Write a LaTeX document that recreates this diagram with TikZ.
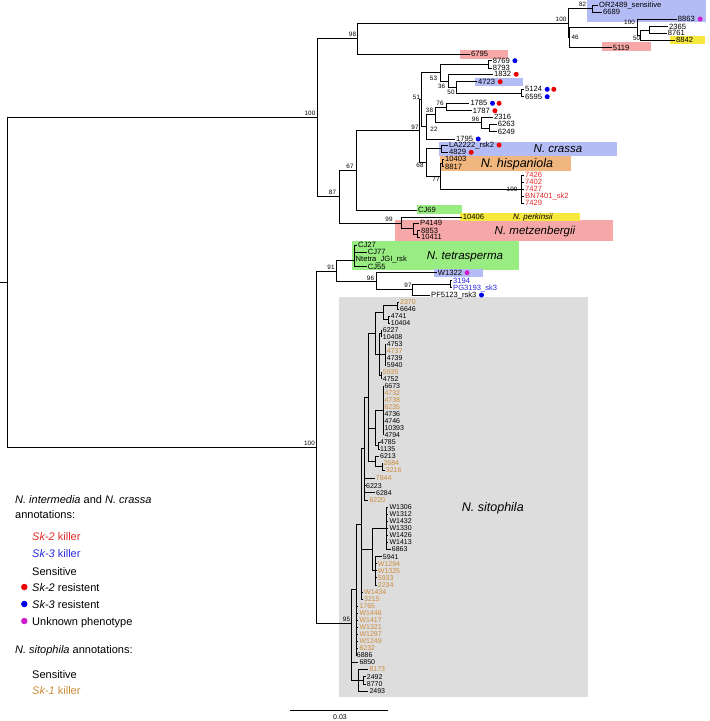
\documentclass[tikz,border=0pt]{standalone}
\usepackage{fontspec}
\setmainfont{Liberation Sans}
\usetikzlibrary{positioning}
\definecolor{killr}{RGB}{230,40,40}
\definecolor{killb}{RGB}{40,40,225}
\definecolor{skone}{RGB}{205,140,60}
\definecolor{dotr}{RGB}{235,0,0}
\definecolor{dotb}{RGB}{0,0,235}
\definecolor{dotm}{RGB}{205,30,205}
\definecolor{boxblue}{RGB}{180,188,245}
\definecolor{boxpink}{RGB}{246,168,168}
\definecolor{boxyellow}{RGB}{246,232,60}
\definecolor{boxorange}{RGB}{240,182,125}
\definecolor{boxgreen}{RGB}{152,236,130}
\definecolor{boxgray}{RGB}{221,221,221}

\begin{document}
\begin{tikzpicture}[x=1pt,y=-1pt,
    br/.style={line width=0.95pt},
    tip/.style={anchor=west,inner xsep=1pt,inner ysep=0pt,text height=5.3pt,text depth=0pt,font=\fontsize{7.6}{7.6}\selectfont},
    stip/.style={tip,text height=5pt,font=\fontsize{7}{7}\selectfont},
    bs/.style={inner sep=0pt,font=\fontsize{6.3}{6.3}\selectfont},
    spec/.style={inner sep=0pt,font=\fontsize{11.5}{12}\selectfont\itshape},
    dot/.style={circle,inner sep=0pt,minimum size=5pt},
    leg/.style={anchor=west,inner sep=0pt,font=\fontsize{11}{12}\selectfont}]
\useasboundingbox (0,0) rectangle (710,721);

% coloured boxes
\fill[boxblue] (587,0) rectangle (706,22);
\fill[boxyellow] (670,36) rectangle (705,44);
\fill[boxpink] (602,42) rectangle (651,51);
\fill[boxpink] (460,49.5) rectangle (508,58.5);
\fill[boxblue] (475,77.7) rectangle (523,86);
\fill[boxblue] (439.3,141.7) rectangle (617,156);
\fill[boxorange] (440,156) rectangle (571,171);
\fill[boxgreen] (417,205) rectangle (462,214);
\fill[boxpink] (395,220) rectangle (613,240.7);
\fill[boxyellow] (460,213) rectangle (580,220.7);
\fill[boxgreen] (351.7,240.7) rectangle (519.3,270);
\fill[boxblue] (434,268.5) rectangle (483,277);
\fill[boxgray] (339.3,296.7) rectangle (588.3,697.3);

\node[spec] (crassa) at (558,149) {N. crassa};
\node[spec,font=\fontsize{12.5}{13}\selectfont\itshape] (hisp) at (517,164) {N. hispaniola};
\node[spec,font=\fontsize{8}{8}\selectfont\itshape] (perk) at (533,217) {N. perkinsii};
\node[spec] (metz) at (535,231.5) {N. metzenbergii};
\node[spec] (tetra) at (465,256.5) {N. tetrasperma};
\node[spec,font=\fontsize{12.5}{13}\selectfont\itshape,anchor=west] (sito) at (461.7,508) {N. sitophila};

% backbone
\coordinate (rootin) at (0,282.7);
\coordinate (root) at (7,282.7);
\coordinate (nA) at (317,117.7);
\coordinate (nL) at (316.7,447.3);
\draw[br] (rootin) -- (root);
\draw[br] (root) |- (nA);
\draw[br] (root) |- (nL);

% top clade
\coordinate (n98) at (357,38.3);
\coordinate (n87) at (339,196.7);
\coordinate (nT) at (568,23);
\coordinate (n82) at (592,8.5);
\coordinate (n46) at (569.5,37.3);
\coordinate (nC) at (637,27);
\coordinate (n50b) at (640,35);
\coordinate (p2365) at (649,30);
\node[tip] (tOR) at (598,5) {OR2489\_sensitive};
\node[tip] (t6689) at (602,12) {6689};
\node[tip] (t8863) at (676.7,19) {8863};
\node[tip] (t2365) at (668,26.7) {2365};
\node[tip] (t8761) at (666.7,33.3) {8761};
\node[tip] (t8842) at (675,40) {8842};
\node[tip] (t5119) at (611.7,47.7) {5119};
\node[tip] (t6795) at (470,54) {6795};
\node[dot,fill=dotm,right=1.5pt of t8863] (d8863) {};
\draw[br] (nA) |- (n98);
\draw[br] (nA) |- (n87);
\draw[br] (n98) |- (nT);
\draw[br] (n98) |- (t6795);
\draw[br] (nT) |- (n82);
\draw[br] (nT) |- (n46);
\draw[br] (n82) |- (tOR);
\draw[br] (n82) |- (t6689);
\draw[br] (n46) |- (nC);
\draw[br] (n46) |- (t5119);
\draw[br] (nC) |- (t8863);
\draw[br] (nC) |- (n50b);
\draw[br] (n50b) |- (p2365);
\draw[br] (n50b) |- (t8842);
\draw[br] (p2365) |- (t2365);
\draw[br] (p2365) |- (t8761);

% intermedia / crassa clade
\coordinate (n67) at (356,170.5);
\coordinate (n99) at (401.7,223.2);
\coordinate (n97) at (419.5,130.7);
\coordinate (n51) at (421.5,99.5);
\coordinate (n68) at (426,162.4);
\coordinate (n53) at (440,72.8);
\coordinate (p8769) at (488,64.5);
\coordinate (n36) at (448.3,81.1);
\coordinate (n50) at (456.7,87.3);
\coordinate (p5124) at (521.7,93);
\coordinate (n22) at (426.7,126.9);
\coordinate (n38) at (435,114.8);
\coordinate (n76) at (446,107);
\coordinate (n96) at (481.7,122.7);
\coordinate (p6263) at (489,128);
\coordinate (pCr) at (441.7,148.7);
\coordinate (n77) at (440,176);
\coordinate (pHis) at (442.5,163);
\coordinate (n100d) at (521,189.2);
\node[tip] (tCJ69) at (417,210) {CJ69};
\node[tip] (t8769) at (491.7,60.7) {8769};
\node[tip] (t8793) at (491.7,68.3) {8793};
\node[tip] (t1832) at (493,74.3) {1832};
\node[tip] (t4723) at (477,81.7) {4723};
\node[tip] (t5124) at (524,89.3) {5124};
\node[tip] (t6595) at (524,96.7) {6595};
\node[tip] (t1785) at (469.3,103.3) {1785};
\node[tip] (t1787) at (471.7,110.7) {1787};
\node[tip] (t2316) at (493,117.3) {2316};
\node[tip] (t6263) at (496.7,124.3) {6263};
\node[tip] (t6249) at (496.7,131.7) {6249};
\node[tip] (t1795) at (455,139) {1795};
\node[tip] (tLA) at (448,145) {LA2222\_rsk2};
\node[tip] (t4829) at (448,152.3) {4829};
\node[tip] (t10403) at (444,159.3) {10403};
\node[tip] (t8817) at (444,166.7) {8817};
\foreach \lab/\yy/\nm in {7426/175/a,7402/182.3/b,7427/189.3/c,BN7401\_sk2/196.3/d,7429/203.3/e}
  {\node[tip,text=killr] (k\nm) at (524,\yy) {\lab};
   \draw[br] (n100d) |- (k\nm);}
\node[dot,fill=dotb,right=1.2pt of t8769] (d8769) {};
\node[dot,fill=dotr,right=1.2pt of t1832] (d1832) {};
\node[dot,fill=dotr,right=1.2pt of t4723] (d4723) {};
\node[dot,fill=dotb,right=1.2pt of t5124] (d5124a) {};
\node[dot,fill=dotr,right=1.2pt of d5124a] (d5124b) {};
\node[dot,fill=dotb,right=1.2pt of t6595] (d6595) {};
\node[dot,fill=dotb,right=1.2pt of t1785] (d1785a) {};
\node[dot,fill=dotr,right=1.2pt of d1785a] (d1785b) {};
\node[dot,fill=dotr,right=1.2pt of t1787] (d1787) {};
\node[dot,fill=dotb,right=1.2pt of t1795] (d1795) {};
\node[dot,fill=dotr,right=1.2pt of tLA] (dLA) {};
\node[dot,fill=dotr,right=1.2pt of t4829] (d4829) {};
\draw[br] (n87) |- (n67);
\draw[br] (n87) |- (n99);
\draw[br] (n67) |- (n97);
\draw[br] (n67) |- (tCJ69);
\draw[br] (n97) |- (n51);
\draw[br] (n97) |- (n68);
\draw[br] (n51) |- (n53);
\draw[br] (n51) |- (n22);
\draw[br] (n53) |- (p8769);
\draw[br] (n53) |- (n36);
\draw[br] (p8769) |- (t8769);
\draw[br] (p8769) |- (t8793);
\draw[br] (n36) |- (t1832);
\draw[br] (n36) |- (n50);
\draw[br] (n50) |- (t4723);
\draw[br] (n50) |- (p5124);
\draw[br] (p5124) |- (t5124);
\draw[br] (p5124) |- (t6595);
\draw[br] (n22) |- (n38);
\draw[br] (n22) |- (t1795);
\draw[br] (n38) |- (n76);
\draw[br] (n38) |- (n96);
\draw[br] (n76) |- (t1785);
\draw[br] (n76) |- (t1787);
\draw[br] (n96) |- (t2316);
\draw[br] (n96) |- (p6263);
\draw[br] (p6263) |- (t6263);
\draw[br] (p6263) |- (t6249);
\draw[br] (n68) |- (pCr);
\draw[br] (n68) |- (n77);
\draw[br] (pCr) |- (tLA);
\draw[br] (pCr) |- (t4829);
\draw[br] (n77) |- (pHis);
\draw[br] (n77) |- (n100d);
\draw[br] (pHis) |- (t10403);
\draw[br] (pHis) |- (t8817);

% perkinsii / metzenbergii
\coordinate (pMz) at (413.3,228.7);
\coordinate (pMz2) at (417.3,234);
\node[tip] (t10406) at (461.7,217.3) {10406};
\node[tip] (tP4149) at (419,223.3) {P4149};
\node[tip] (t8853) at (420,230.7) {8853};
\node[tip] (t10411) at (420,237.3) {10411};
\draw[br] (n99) |- (t10406);
\draw[br] (n99) |- (pMz);
\draw[br] (pMz) |- (tP4149);
\draw[br] (pMz) |- (pMz2);
\draw[br] (pMz2) |- (t8853);
\draw[br] (pMz2) |- (t10411);

% tetrasperma and sk-3 clade
\coordinate (n91) at (336,271.3);
\coordinate (S95) at (351.7,623.3);
\coordinate (pT) at (354,260);
\coordinate (n96b) at (376.7,281);
\coordinate (n97c) at (412.7,289.6);
\coordinate (p3194) at (450.7,284.2);
\node[tip] (tCJ27) at (357,245) {CJ27};
\node[tip] (tCJ77) at (366.7,252) {CJ77};
\node[tip] (tNt) at (354.5,259.3) {Ntetra\_JGI\_rsk};
\node[tip] (tCJ55) at (366.7,266.7) {CJ55};
\node[tip] (tW1322) at (436.7,272.7) {W1322};
\node[tip,text=killb] (t3194) at (452,280.7) {3194};
\node[tip,text=killb] (tPG) at (452,287.7) {PG3193\_sk3};
\node[tip] (tPF) at (430,295) {PF5123\_rsk3};
\node[dot,fill=dotm,right=1.2pt of tW1322] (dW1322) {};
\node[dot,fill=dotb,right=1.2pt of tPF] (dPF) {};
\draw[br] (nL) |- (n91);
\draw[br] (nL) |- (S95);
\draw[br] (n91) |- (pT);
\draw[br] (n91) |- (n96b);
\draw[br] (pT) |- (tCJ27);
\draw[br] (pT) |- (tCJ77);
\draw[br] (pT) |- (tNt);
\draw[br] (pT) |- (tCJ55);
\draw[br] (n96b) |- (tW1322);
\draw[br] (n96b) |- (n97c);
\draw[br] (n97c) |- (p3194);
\draw[br] (n97c) |- (tPF);
\draw[br] (p3194) |- (t3194);
\draw[br] (p3194) |- (tPG);

% sitophila clade
\coordinate (A) at (356,589.7);
\coordinate (B) at (361.7,524);
\coordinate (B2) at (364.5,448.9);
\coordinate (C) at (368,397.7);
\coordinate (E) at (375,333.8);
\coordinate (E1) at (383.3,312.8);
\coordinate (E2) at (379.3,354.8);
\coordinate (P1) at (397.3,305.8);
\coordinate (P2) at (388.7,319.8);
\coordinate (P3) at (381.7,333.8);
\coordinate (P4) at (385,354.8);
\coordinate (P5) at (381.7,375.8);
\coordinate (F) at (375.5,428.3);
\coordinate (P6) at (383.3,410.8);
\coordinate (P7) at (378.7,445.8);
\coordinate (G) at (375.5,461.5);
\coordinate (P8) at (382.3,466.8);
\coordinate (D) at (372.3,549.6);
\coordinate (P9) at (386.7,528.3);
\coordinate (P10) at (375,570.8);
\coordinate (L) at (358.3,680);
\coordinate (PL) at (363.3,680.3);
\draw[br] (S95) |- (A);
\draw[br] (S95) |- (L);
\draw[br] (A) |- (B);
\draw[br] (B) |- (B2);
\draw[br] (B) |- (D);
\draw[br] (B2) |- (C);
\draw[br] (C) |- (E);
\draw[br] (C) |- (F);
\draw[br] (C) |- (G);
\draw[br] (E) |- (E1);
\draw[br] (E) |- (E2);
\draw[br] (E1) |- (P1);
\draw[br] (E1) |- (P2);
\draw[br] (E2) |- (P3);
\draw[br] (E2) |- (P4);
\draw[br] (E2) |- (P5);
\draw[br] (F) |- (P6);
\draw[br] (F) |- (P7);
\draw[br] (G) |- (P8);
\draw[br] (D) |- (P9);
\draw[br] (D) |- (P10);
\draw[br] (L) |- (PL);
\foreach \lab/\yy/\col in {2370/302.3/skone,6646/309.3/black}
  {\node[stip,text=\col] (s\lab) at (399,\yy) {\lab}; \draw[br] (P1) |- (s\lab);}
\foreach \lab/\yy/\col in {4741/316.3/black,10404/323.3/black}
  {\node[stip,text=\col] (s\lab) at (389.7,\yy) {\lab}; \draw[br] (P2) |- (s\lab);}
\foreach \lab/\yy/\col in {6227/330.3/black,10408/337.3/black}
  {\node[stip,text=\col] (s\lab) at (381.7,\yy) {\lab}; \draw[br] (P3) |- (s\lab);}
\foreach \lab/\yy/\col in {4753/344.3/black,4737/351.3/skone,4739/358.3/black,5940/365.3/black}
  {\node[stip,text=\col] (s\lab) at (385.7,\yy) {\lab}; \draw[br] (P4) |- (s\lab);}
\foreach \lab/\yy/\col in {5935/372.3/skone,4752/379.3/black}
  {\node[stip,text=\col] (s\lab) at (381.7,\yy) {\lab}; \draw[br] (P5) |- (s\lab);}
\foreach \lab/\yy/\col in {6673/386.3/black,4732/393.3/skone,4738/400.3/skone,6235/407.3/skone,4736/414.3/black,4746/421.3/black,10393/428.3/black,4794/435.3/black}
  {\node[stip,text=\col] (s\lab) at (383.3,\yy) {\lab}; \draw[br] (P6) |- (s\lab);}
\foreach \lab/\yy/\col in {4785/442.3/black,1135/449.3/black}
  {\node[stip,text=\col] (s\lab) at (379,\yy) {\lab}; \draw[br] (P7) |- (s\lab);}
\node[stip] (s6213) at (379,456.3) {6213};
\node[stip,text=skone] (s2684) at (382.3,463.3) {2684};
\node[stip,text=skone] (s3216) at (384.7,470.3) {3216};
\draw[br] (G) |- (s6213);
\draw[br] (P8) |- (s2684);
\draw[br] (P8) |- (s3216);
\foreach \lab/\yy/\xx/\col in {7844/478.3/374.7/skone,6223/485.7/365/black,6284/492.7/375/black,6220/500/368.3/skone}
  {\node[stip,text=\col] (s\lab) at (\xx,\yy) {\lab}; \draw[br] (B2) |- (s\lab);}
\foreach \lab/\yy in {W1306/507.3,W1312/514.3,W1432/521.3,W1330/528.3,W1426/535.3,W1413/542.3}
  {\node[stip] (s\lab) at (388.3,\yy) {\lab}; \draw[br] (P9) |- (s\lab);}
\node[stip] (s6863) at (390.7,549.3) {6863};
\draw[br] (P9) |- (s6863);
\node[stip] (s5941) at (381.7,556.7) {5941};
\draw[br] (P10) |- (s5941);
\foreach \lab/\yy in {W1294/563.7,W1325/570.7,5933/577.7,2234/585}
  {\node[stip,text=skone] (s\lab) at (376.7,\yy) {\lab}; \draw[br] (P10) |- (s\lab);}
\foreach \lab/\yy in {W1434/592,3215/599}
  {\node[stip,text=skone] (s\lab) at (363,\yy) {\lab}; \draw[br] (B) |- (s\lab);}
\foreach \lab/\yy in {1765/606,W1446/613,W1417/620,W1321/627,W1297/634,W1249/641,6232/648}
  {\node[stip,text=skone] (s\lab) at (358.3,\yy) {\lab}; \draw[br] (A) |- (s\lab);}
\node[stip] (s6886) at (355.7,655.3) {6886};
\draw[br] (A) |- (s6886);
\node[stip] (s6850) at (358.3,662.3) {6850};
\draw[br] (S95) |- (s6850);
\node[stip,text=skone] (s8173) at (368.3,669) {8173};
\node[stip] (s2492) at (365.7,676.7) {2492};
\node[stip] (s8770) at (365.7,684) {8770};
\node[stip] (s2493) at (368.3,691) {2493};
\draw[br] (L) |- (s8173);
\draw[br] (PL) |- (s2492);
\draw[br] (PL) |- (s8770);
\draw[br] (L) |- (s2493);

% support values
\node[bs] at (310,113.5) {100};
\node[bs] at (352.5,34.3) {98};
\node[bs] at (561,19) {100};
\node[bs] at (582.5,4.7) {82};
\node[bs] at (629.5,22.7) {100};
\node[bs] at (636.5,38.3) {50};
\node[bs] at (575,37.3) {46};
\node[bs] at (416.5,97) {51};
\node[bs] at (433.5,78.3) {53};
\node[bs] at (441.5,86.7) {36};
\node[bs] at (451,92.3) {50};
\node[bs] at (440,103.3) {76};
\node[bs] at (429.5,110.7) {38};
\node[bs] at (475.5,119) {96};
\node[bs] at (434,129.3) {22};
\node[bs] at (415,127.3) {97};
\node[bs] at (420,165) {68};
\node[bs] at (436,179.5) {77};
\node[bs] at (512,189.3) {100};
\node[bs] at (350,166.7) {67};
\node[bs] at (332.5,192.7) {87};
\node[bs] at (389,219.3) {99};
\node[bs] at (331,267.3) {91};
\node[bs] at (370.5,278.3) {96};
\node[bs] at (408,285.7) {97};
\node[bs] at (309.5,443.3) {100};
\node[bs] at (346.5,619) {95};

% scale bar
\coordinate (sbl) at (290,710.7);
\coordinate (sbr) at (388.3,710.7);
\draw[line width=0.6pt] (sbl) -- (sbr);
\node[bs,font=\fontsize{7}{7}\selectfont] (sbt) at (340,717.5) {0.03};

% legend
\node[leg] (lh1) at (15,500) {\textit{N. intermedia} and \textit{N. crassa}};
\node[leg] (lh2) at (15,515) {annotations:};
\node[leg,text=killr] (l1) at (32,536.7) {\textit{Sk-2} killer};
\node[leg,text=killb] (l2) at (32,553.3) {\textit{Sk-3} killer};
\node[leg] (l3) at (32,571.5) {Sensitive};
\node[leg] (l4) at (32,588) {\textit{Sk-2} resistent};
\node[leg] (l5) at (32,605) {\textit{Sk-3} resistent};
\node[leg] (l6) at (32,622.3) {Unknown phenotype};
\node[leg] (lh3) at (15,650.7) {\textit{N. sitophila} annotations:};
\node[leg] (l7) at (32,674.3) {Sensitive};
\node[leg,text=skone] (l8) at (32,691) {\textit{Sk-1} killer};
\node[dot,fill=dotr,minimum size=6.5pt] (ld1) at (24.3,587) {};
\node[dot,fill=dotb,minimum size=6.5pt] (ld2) at (24.3,604) {};
\node[dot,fill=dotm,minimum size=6.5pt] (ld3) at (24.3,621) {};
\end{tikzpicture}
\end{document}
